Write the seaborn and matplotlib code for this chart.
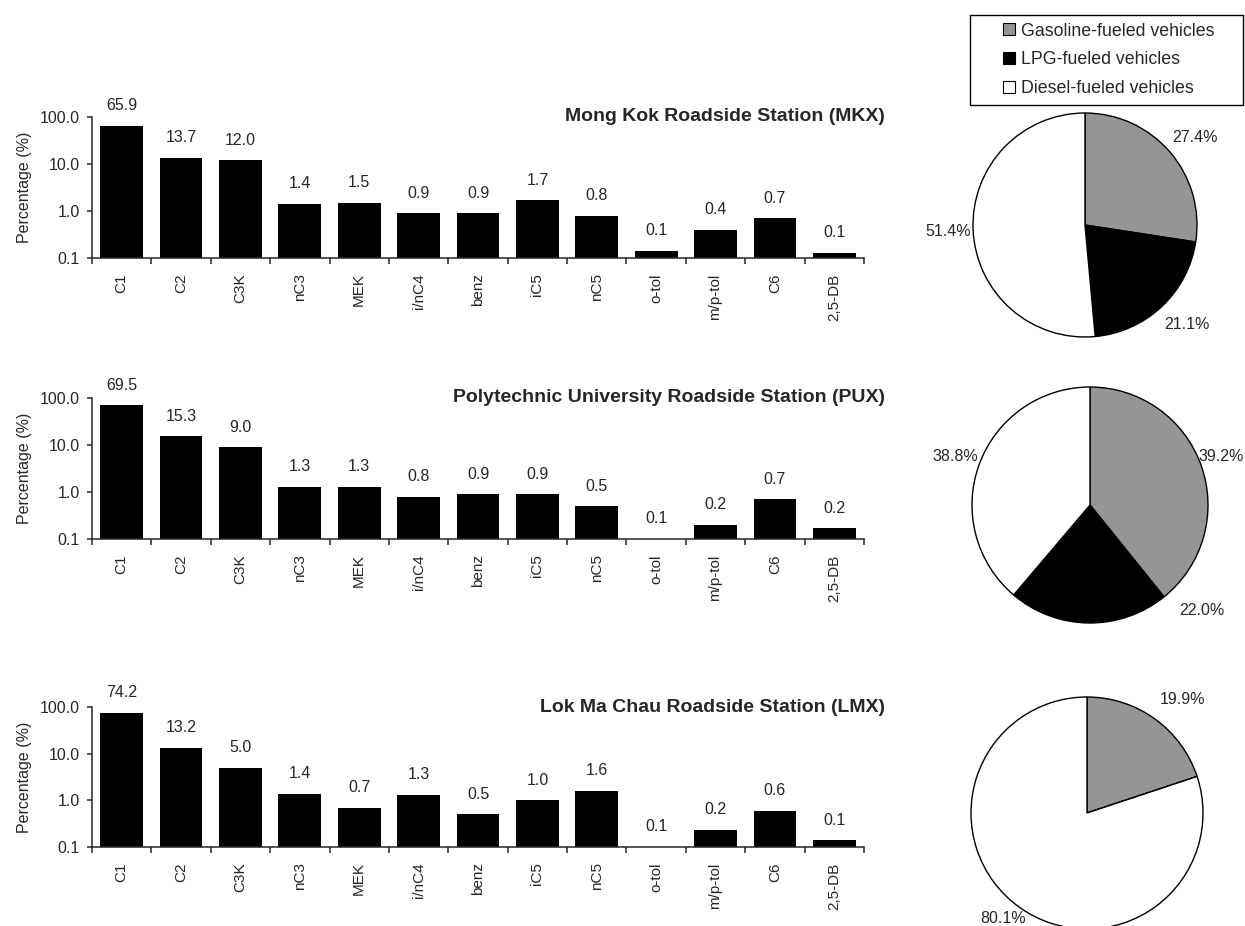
import matplotlib
matplotlib.use("Agg")
import matplotlib.pyplot as plt
from matplotlib.patches import Patch, Rectangle
from matplotlib.ticker import FixedLocator, FuncFormatter, NullLocator
import numpy as np
import pandas as pd
import seaborn as sns

# ---- data -----------------------------------------------------------------
compounds = ["C1", "C2", "C3K", "nC3", "MEK", "i/nC4", "benz", "iC5", "nC5",
             "o-tol", "m/p-tol", "C6", "2,5-DB"]

mkx_pct = [65.9, 13.7, 12.0, 1.4, 1.5, 0.9, 0.9, 1.7, 0.8, 0.14, 0.4, 0.7, 0.13]
pux_pct = [69.5, 15.3, 9.0, 1.3, 1.3, 0.8, 0.9, 0.9, 0.5, 0.1, 0.2, 0.7, 0.17]
lmx_pct = [74.2, 13.2, 5.0, 1.4, 0.7, 1.3, 0.5, 1.0, 1.6, 0.1, 0.23, 0.6, 0.14]

station_titles = ["Mong Kok Roadside Station (MKX)",
                  "Polytechnic University Roadside Station (PUX)",
                  "Lok Ma Chau Roadside Station (LMX)"]

vehicle_types = ["Gasoline-fueled vehicles", "LPG-fueled vehicles",
                 "Diesel-fueled vehicles"]
mkx_share = [27.4, 21.1, 51.4]
pux_share = [39.2, 22.0, 38.8]
lmx_share = [19.9, 0.0, 80.1]

y_ticks = [0.1, 1.0, 10.0, 100.0]

# ---- style ----------------------------------------------------------------
sns.set_style("ticks")
plt.rcParams["font.family"] = ["Liberation Sans", "DejaVu Sans"]
plt.rcParams["axes.linewidth"] = 1.1
plt.rcParams["xtick.major.width"] = 1.1
plt.rcParams["ytick.major.width"] = 1.1
plt.rcParams["xtick.minor.width"] = 1.1

W, H = 1245, 926
fig = plt.figure(figsize=(W / 100, H / 100), dpi=100)
fig.patch.set_facecolor("white")

wedge_colors = ["#959595", "#000000", "#ffffff"]

TXT = 11.5


def px_axes(left, top, width, height):
    return fig.add_axes([left / W, 1 - (top + height) / H, width / W, height / H])


# bar panels: (top, bottom) pixel rows of each plot area
bar_rows = [(117, 258), (398, 539), (707, 847)]
bar_data = [mkx_pct, pux_pct, lmx_pct]

for (top, bottom), pct, title in zip(bar_rows, bar_data, station_titles):
    ax = px_axes(92, top, 772, bottom - top)
    df = pd.DataFrame({"compound": compounds, "pct": pct})
    sns.barplot(data=df, x="compound", y="pct", order=compounds, color="black",
                saturation=1, width=0.72, errorbar=None, ax=ax)
    for p in ax.patches:
        p.set_edgecolor("none")
    ax.set_yscale("log")
    ax.set_ylim(0.1, 100)
    ax.set_xlim(-0.5, len(compounds) - 0.5)
    ax.yaxis.set_major_locator(FixedLocator(y_ticks))
    ax.yaxis.set_minor_locator(NullLocator())
    ax.yaxis.set_major_formatter(FuncFormatter(lambda v, _: f"{v:.1f}"))
    ax.xaxis.set_minor_locator(FixedLocator(np.arange(-0.5, len(compounds), 1.0)))
    ax.tick_params(axis="x", which="major", length=0, pad=11, labelsize=11,
                   labelrotation=90)
    ax.tick_params(axis="x", which="minor", length=4.5, direction="out")
    ax.tick_params(axis="y", which="major", length=3.8, direction="out", pad=5,
                   labelsize=TXT)
    for lbl in ax.get_xticklabels():
        lbl.set_verticalalignment("top")
    sns.despine(ax=ax)
    ax.set_xlabel("")
    ax.set_ylabel("Percentage (%)", fontsize=TXT)
    ax.yaxis.set_label_coords(-0.0777, 0.5)
    for i, v in enumerate(pct):
        ax.annotate(f"{v:.1f}", xy=(i, max(v, 0.1)), xytext=(0, 14.5),
                    textcoords="offset points", ha="center", va="center",
                    fontsize=TXT, annotation_clip=False)
    ax.text(1.027, 1.0, title, transform=ax.transAxes, ha="right", va="center",
            fontsize=14, fontweight="bold")

# pie panels: centre x, centre y, radius (pixels) and label spots (radius units)
pie_specs = [
    (1085, 225, 112, mkx_share, [(0.98, 0.78), (0.91, -0.89), (-1.22, -0.06)]),
    (1090, 505, 118, pux_share, [(1.11, 0.41), (0.95, -0.89), (-1.14, 0.41)]),
    (1087, 813, 116, lmx_share, [(0.82, 0.98), None, (-0.72, -0.91)]),
]

for cx, cy, r, share, spots in pie_specs:
    side = 2.5 * r
    ax = px_axes(cx - side / 2, cy - side / 2, side, side)
    ax.pie(share, colors=wedge_colors, startangle=90, counterclock=False,
           wedgeprops=dict(edgecolor="black", linewidth=1.0))
    ax.set_xlim(-1.25, 1.25)
    ax.set_ylim(-1.25, 1.25)
    for v, spot in zip(share, spots):
        if v > 0 and spot is not None:
            ax.text(spot[0], spot[1], f"{v:.1f}%", ha="center", va="center",
                    fontsize=TXT)

# legend with its own rectangular frame
fig.patches.append(Rectangle((970 / W, 1 - 105 / H), 273 / W, 90 / H,
                             transform=fig.transFigure, facecolor="white",
                             edgecolor="black", linewidth=1.0, zorder=0))
handles = [Patch(facecolor=c, edgecolor="black", linewidth=0.8) for c in wedge_colors]
fig.legend(handles, vehicle_types, loc="upper left",
           bbox_to_anchor=(1003 / W, 1 - 22.5 / H), frameon=False,
           fontsize=12.8, handlelength=0.65, handleheight=0.65, handletextpad=0.35,
           labelspacing=0.66, borderpad=0, borderaxespad=0)

fig.savefig("out.png", dpi=100, facecolor="white")
